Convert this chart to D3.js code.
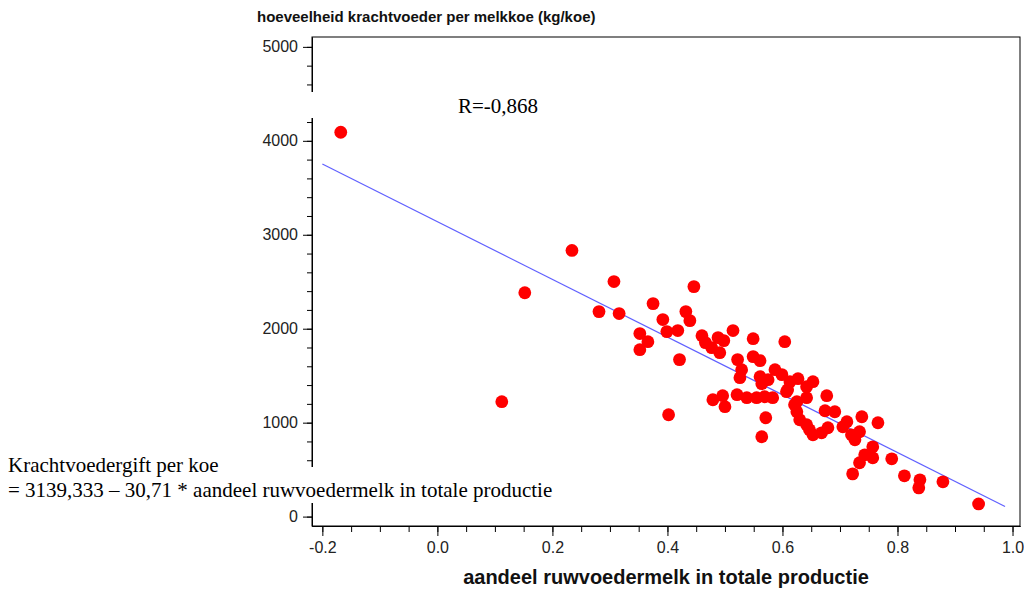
<!DOCTYPE html>
<html>
<head>
    <style>
        body { margin: 0; background: #fff; }
        .tick text { font: 16px "Liberation Sans", Arial, sans-serif; fill: #222; }
        .tick line, .domain { stroke: #000; }
        .title { font: bold 15px "Liberation Sans", Arial, sans-serif; fill: #111; }
        .xlabel { font: bold 20px "Liberation Sans", Arial, sans-serif; fill: #111; }
        .note { font: 21px "Liberation Serif", "Times New Roman", serif; fill: #000; }
    </style>
    <script src="https://d3js.org/d3.v7.min.js"></script>
</head>
<body>
    <svg width="1024" height="590"></svg>
    <script>
        // aandeel ruwvoedermelk (x) en krachtvoeder kg/koe (y)
        var aandeel = [-0.168,0.152,0.234,0.112,0.281,0.307,0.316,0.375,0.446,0.402,0.432,0.439,0.392,0.399,0.418,0.352,0.366,0.352,0.421,0.460,0.466,0.477,0.488,0.498,0.491,0.514,0.549,0.604,0.522,0.549,0.561,0.529,0.526,0.587,0.599,0.561,0.564,0.575,0.627,0.653,0.613,0.609,0.642,0.479,0.496,0.500,0.521,0.538,0.555,0.569,0.583,0.625,0.642,0.677,0.571,0.625,0.630,0.642,0.674,0.691,0.647,0.653,0.668,0.679,0.712,0.705,0.738,0.766,0.720,0.734,0.726,0.757,0.743,0.757,0.734,0.790,0.722,0.812,0.839,0.837,0.879,0.941,0.607,0.621,0.564];
        var krachtvoer = [4091,2383,2833,1223,2182,2502,2161,2267,2448,1084,2182,2086,2097,1969,1980,1948,1862,1777,1671,1926,1852,1798,1905,1873,1745,1980,1894,1862,1671,1703,1660,1564,1479,1564,1511,1489,1415,1457,1468,1436,1436,1351,1383,1244,1287,1170,1298,1266,1266,1276,1266,1223,1266,1287,1052,1116,1031,978,1127,1116,924,871,892,946,1010,956,1063,999,871,903,818,743,658,626,573,615,455,434,391,306,370,135,1330,1191,850];

        var xTicks = [-0.2, 0.0, 0.2, 0.4, 0.6, 0.8, 1.0];
        var yTicks = [0, 1000, 2000, 3000, 4000, 5000];

        // regressielijn: krachtvoer = 3139,333 - 30,71 * aandeel(%)
        var intercept = 3139.333, slope = -30.71;
        var lineRange = [-0.2, 0.987];

        var svg = d3.select("svg");
        var plotLeft = 312, plotRight = 1020, plotTop = 37, plotBottom = 526;

        var x = d3.scaleLinear().domain([-0.218, 1.013]).range([plotLeft, plotRight]);
        var y = d3.scaleLinear().domain([-100, 5105]).range([plotBottom, plotTop]);

        // frame
        svg.append("rect")
           .attr("x", plotLeft).attr("y", plotTop)
           .attr("width", plotRight - plotLeft).attr("height", plotBottom - plotTop)
           .attr("fill", "none").attr("stroke", "#000");

        // minor ticks
        svg.append("g")
           .attr("transform", "translate(" + plotLeft + ",0)")
           .call(d3.axisLeft(y).tickValues(d3.range(0, 5001, 200)).tickSize(5).tickSizeOuter(0).tickFormat(""));
        svg.append("g")
           .attr("transform", "translate(0," + plotBottom + ")")
           .call(d3.axisBottom(x).tickValues(d3.range(-0.2, 1.01, 0.05)).tickSize(6).tickSizeOuter(0).tickFormat(""));

        // major ticks
        var yAxis = svg.append("g")
           .attr("transform", "translate(" + plotLeft + ",0)")
           .call(d3.axisLeft(y).tickValues(yTicks).tickSize(9).tickSizeOuter(0).tickPadding(5));
        var xAxis = svg.append("g")
           .attr("transform", "translate(0," + plotBottom + ")")
           .call(d3.axisBottom(x).tickValues(xTicks).tickSize(10).tickSizeOuter(0).tickPadding(6));

        svg.selectAll(".tick text").attr("font-family", null).attr("font-size", null);
        yAxis.selectAll("text").text(function(d) { return String(d); });
        xAxis.selectAll("text").text(function(d) { return d.toFixed(1); });

        // regression line
        var fit = function(v) { return intercept + slope * v * 100; };
        svg.append("line")
           .attr("x1", x(lineRange[0])).attr("y1", y(fit(lineRange[0])))
           .attr("x2", x(lineRange[1])).attr("y2", y(fit(lineRange[1])))
           .attr("stroke", "#6060ff").attr("stroke-width", 1.2);

        // points
        svg.append("g").selectAll("circle")
           .data(aandeel)
           .enter().append("circle")
           .attr("cx", function(d) { return x(d); })
           .attr("cy", function(d, i) { return y(krachtvoer[i]); })
           .attr("r", 6.4)
           .attr("fill", "#ff0000");

        // titles
        svg.append("text").attr("class", "title")
           .attr("x", 257).attr("y", 22)
           .text("hoeveelheid krachtvoeder per melkkoe (kg/koe)");
        svg.append("text").attr("class", "xlabel")
           .attr("x", 666).attr("y", 584).attr("text-anchor", "middle")
           .text("aandeel ruwvoedermelk in totale productie");

        // text boxes (white background over the axis)
        svg.append("rect").attr("x", 300).attr("y", 92).attr("width", 245).attr("height", 26).attr("fill", "#fff");
        svg.append("text").attr("class", "note")
           .attr("x", 458).attr("y", 113)
           .text("R=-0,868");

        svg.append("rect").attr("x", 0).attr("y", 467).attr("width", 570).attr("height", 36).attr("fill", "#fff");
        svg.append("text").attr("class", "note")
           .attr("x", 8).attr("y", 472)
           .text("Krachtvoedergift per koe");
        svg.append("text").attr("class", "note")
           .attr("x", 8).attr("y", 497)
           .text("= 3139,333 \u2013 30,71 * aandeel ruwvoedermelk in totale productie");
    </script>
</body>
</html>
